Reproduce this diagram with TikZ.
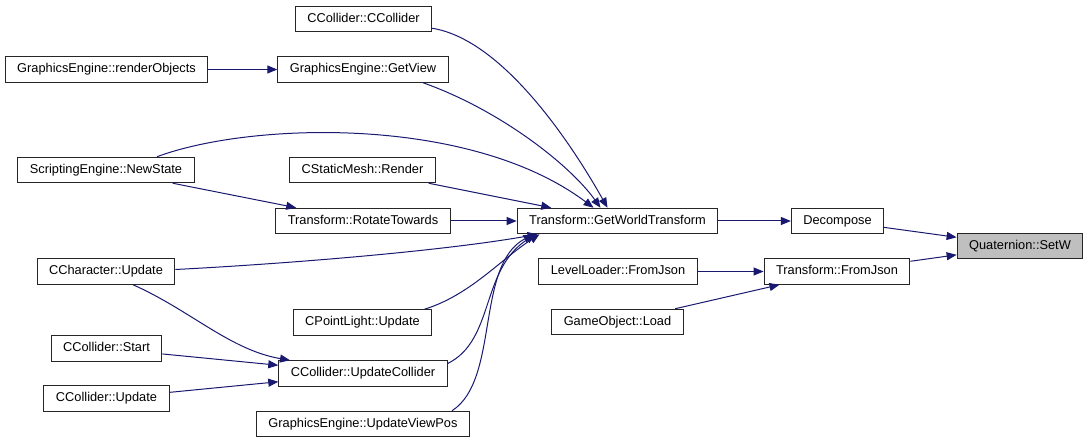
\documentclass[tikz,border=0pt]{standalone}
\usepackage{fontspec}
\setmainfont{Liberation Sans}
\usepackage{xcolor}
\usepackage{tikz}
\usetikzlibrary{arrows.meta, positioning}

\definecolor{edgeblue}{HTML}{191970}
\definecolor{hilite}{HTML}{BFBFBF}

\tikzset{
    fn/.style={draw=black!85, line width=1pt, fill=white, minimum height=25.5pt,
        inner xsep=12pt, text height=9.4pt, text depth=2.7pt,
        font=\fontsize{12.8}{15}\selectfont},
    call/.style={edgeblue, line width=1pt, -{Triangle[length=10pt, width=8pt]}}
}

\begin{document}
\begin{tikzpicture}[x=1pt, y=-1pt]
    \useasboundingbox (0,0) rectangle (1089,443);

    % Functions
    \foreach \name/\x/\y/\txt in {ccc/363.5/19/CCollider::CCollider,
        getview/363/69.5/GraphicsEngine::GetView,
        render/106.5/69.5/GraphicsEngine::renderObjects,
        newstate/106/170/ScriptingEngine::NewState,
        staticmesh/362.5/170/CStaticMesh::Render,
        rotate/363/221/Transform::RotateTowards,
        gwt/617.5/221/Transform::GetWorldTransform,
        character/106/271.5/CCharacter::Update,
        pointlight/362.5/322.5/CPointLight::Update,
        start/106.5/348.5/CCollider::Start,
        updcoll/363/373.5/CCollider::UpdateCollider,
        collupdate/106.5/398.5/CCollider::Update,
        viewpos/363/424/GraphicsEngine::UpdateViewPos,
        levelloader/618/271.5/LevelLoader::FromJson,
        gameobject/617.5/322/GameObject::Load,
        decompose/837.5/221/Decompose,
        fromjson/837/271.5/Transform::FromJson} {
        \node[fn] (\name) at (\x,\y) {\txt};
    }
    \node[fn, fill=hilite] (setw) at (1020,246) {Quaternion::SetW};

    % Straight calls
    \foreach \a/\b in {render/getview, newstate/rotate, staticmesh/gwt, rotate/gwt,
        start/updcoll, collupdate/updcoll, gwt/decompose, decompose/setw,
        fromjson/setw, levelloader/fromjson, gameobject/fromjson} {
        \draw[call] (\a) -- (\b);
    }

    % Curved calls into GetWorldTransform
    \draw[call] ([yshift=4pt]ccc.south east) .. controls (505,40) and (575,150) .. ([xshift=-10pt]gwt.north);
    \draw[call] ([xshift=60pt]getview.south) .. controls (500,110) and (570,165) .. ([xshift=-17pt]gwt.north);
    \draw[call] ([xshift=51pt]newstate.north) .. controls (250,122) and (470,115) .. ([xshift=-24pt]gwt.north);
    \draw[call] ([yshift=2pt]character.east) .. controls (300,263) and (450,250) .. ([xshift=-80pt]gwt.south);
    \draw[call] ([xshift=62pt]pointlight.north) .. controls (470,295) and (500,260) .. ([xshift=-78pt]gwt.south);
    \draw[call] ([yshift=10pt]updcoll.east) .. controls (495,340) and (480,270) .. ([xshift=-82pt]gwt.south);
    \draw[call] ([xshift=89pt]viewpos.north) .. controls (500,380) and (475,265) .. ([xshift=-84pt]gwt.south);

    % Caller of UpdateCollider
    \draw[call] ([xshift=27pt]character.south) .. controls (190,310) and (230,350) .. ([xshift=-73pt]updcoll.north);
\end{tikzpicture}
\end{document}
